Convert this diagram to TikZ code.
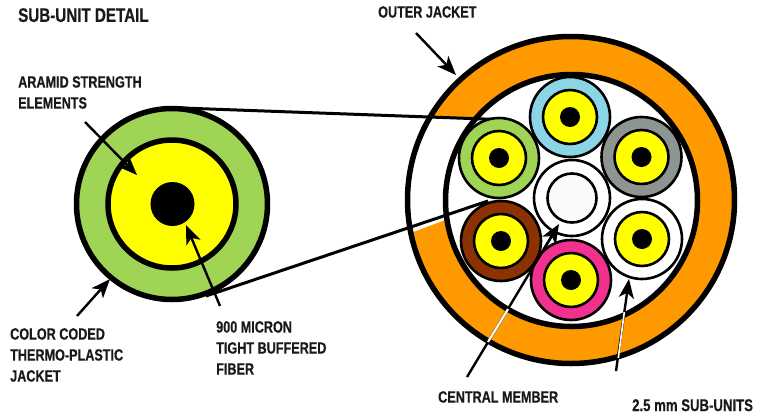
\documentclass[tikz,border=0pt]{standalone}
\usepackage{fontspec}
\setmainfont[FakeStretch=0.775,BoldFeatures={FakeBold=0.5}]{Liberation Sans}
\usetikzlibrary{arrows.meta}
\definecolor{ringorange}{HTML}{FF9900}
\definecolor{jgreen}{HTML}{A0D455}
\definecolor{jblue}{HTML}{8CD5E6}
\definecolor{jgrey}{HTML}{8E9490}
\definecolor{jbrown}{HTML}{8C3100}
\definecolor{jpink}{HTML}{F2308F}
\definecolor{coreyellow}{HTML}{FFFF00}
\tikzset{
  x=1pt,y=-1pt,
  lbl/.style={font=\bfseries\fontsize{16.3}{21}\selectfont,text=black!90,anchor=north west,inner sep=0pt,align=left},
  pointer/.style={line width=2.4pt,draw=black,-{Stealth[length=19pt,width=15pt,inset=5pt]}},
  whitepointer/.style={line width=1.7pt,draw=white},
  tangent/.style={line width=3pt,draw=black},
  subunit/.pic={
    \fill[draw=black,line width=2.6pt,fill=#1] (0,0) circle[radius=40];
    \fill[draw=black,line width=2.6pt,fill=coreyellow] (0,0) circle[radius=27];
    \fill[black] (0,0) circle[radius=10];
  }
}
\begin{document}
\begin{tikzpicture}
\useasboundingbox (0,0) rectangle (772,416);
% sub-unit detail
\node[circle,draw=black,line width=5.5pt,fill=jgreen,minimum size=191pt,inner sep=0pt] (detail) at (172,204) {};
\node[circle,draw=black,line width=5.5pt,fill=coreyellow,minimum size=128pt,inner sep=0pt] (detailbuffer) at (172,204) {};
\node[circle,fill=black,minimum size=44pt,inner sep=0pt] (detailcore) at (172.5,204) {};
% cable ring
\coordinate (ringUo) at (433,117);
\coordinate (ringUi) at (472,119);
\coordinate (ringLo) at (413,232);
\coordinate (ringLi) at (445,220);
\fill[ringorange] (571,200) circle[radius=166];
\fill[white] (ringUi) -- (ringUo) -- (390,115) -- (390,238) -- (ringLo) -- (ringLi) -- (480,205) -- cycle;
\node[circle,draw=black,line width=5.5pt,minimum size=327pt,inner sep=0pt] (cable) at (571,200) {};
\node[circle,draw=black,line width=5.5pt,fill=white,minimum size=252pt,inner sep=0pt] (cableinner) at (571.5,200.5) {};
% tangents (under the sub-units)
\coordinate (tU1) at (182,108);
\coordinate (tU2) at (498,119.5);
\coordinate (tL1) at (206,296);
\coordinate (tL2) at (488,201);
\draw[tangent] (tU1) -- (tU2);
\draw[tangent] (tL1) -- (tL2);
% central member pointer shaft runs between the sub-units
\coordinate (aMember) at (467,377);
\coordinate (bMember) at (559,224);
\draw[pointer] (aMember) -- (bMember);
% sub-units
\pic at (570,117) {subunit=jblue};
\pic at (499,158) {subunit=jgreen};
\pic at (641.5,157) {subunit=jgrey};
\pic at (501,241) {subunit=jbrown};
\pic at (571,280) {subunit=jpink};
\pic at (642,239) {subunit=white};
\node[circle,draw=black,line width=2.6pt,fill=white,minimum size=76pt,inner sep=0pt] (central) at (572,198) {};
\node[circle,draw=black,line width=2.6pt,fill=black!2,minimum size=49pt,inner sep=0pt] (centralcore) at (572,198) {};
% labels
\node[lbl] (title) at (18,8) {\fontsize{19.6}{21}\selectfont SUB-UNIT DETAIL};
\node[lbl] (outer) at (378,6) {OUTER JACKET};
\node[lbl] (aramid) at (18,76) {ARAMID STRENGTH\\ELEMENTS};
\node[lbl] (color) at (10,328) {COLOR CODED\\THERMO-PLASTIC\\JACKET};
\node[lbl] (micron) at (216,321) {900 MICRON\\TIGHT BUFFERED\\FIBER};
\node[lbl] (member) at (438,391) {CENTRAL MEMBER};
\node[lbl] (units) at (632,399) {\fontsize{17}{21}\selectfont 2.5 mm SUB-UNITS};
% pointers
\coordinate (aOuter) at (416,33);
\coordinate (bOuter) at (456,75);
\coordinate (aAramid) at (85,122);
\coordinate (bAramid) at (137,175);
\coordinate (aColor) at (77,316);
\coordinate (bColor) at (110,279);
\coordinate (aMicron) at (220,306);
\coordinate (bMicron) at (186,225);
\coordinate (aUnits) at (616,371);
\coordinate (bUnits) at (629,279);
\draw[pointer] (aOuter) -- (bOuter);
\draw[pointer] (aAramid) -- (bAramid);
\draw[pointer] (aColor) -- (bColor);
\draw[pointer] (aMicron) -- (bMicron);
\draw[pointer] (aUnits) -- (bUnits);
\draw[pointer,shorten <=130pt] (aMember) -- (bMember);
% white streaks where the pointers cross the ring
\coordinate (wM1) at (488,342);
\coordinate (wM2) at (508,309);
\coordinate (wU1) at (618.3,358);
\coordinate (wU2) at (624.3,312);
\draw[whitepointer,line width=2.2pt] (wM1) -- (wM2);
\draw[whitepointer] (wU1) -- (wU2);
\end{tikzpicture}
\end{document}
